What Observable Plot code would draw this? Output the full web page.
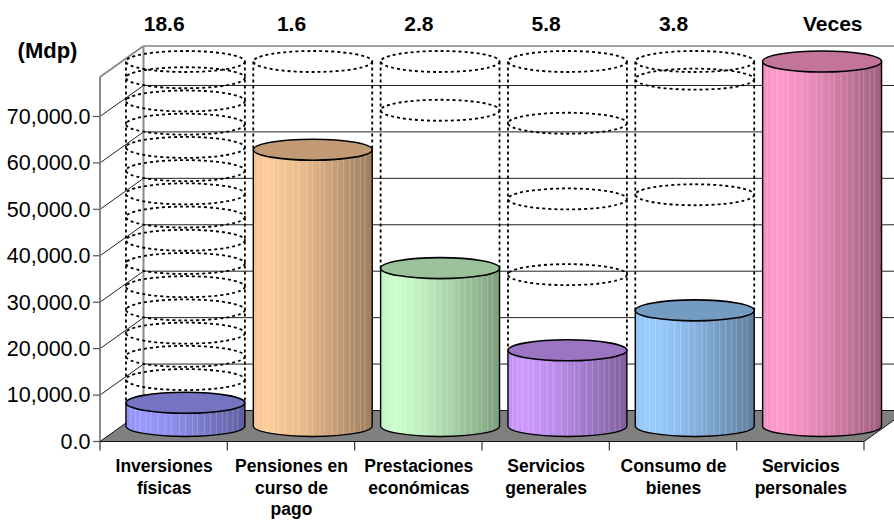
<!DOCTYPE html>
<html><head><meta charset="utf-8">
<script src="https://cdn.jsdelivr.net/npm/d3@7"></script>
<script src="https://cdn.jsdelivr.net/npm/@observablehq/plot@0.6"></script>
<style>body{margin:0;background:#fff;} #chart{width:894px;height:520px;overflow:hidden;}</style>
</head><body><div id="chart"></div>
<script>
// ---- data ----
const categories = ["Inversiones\nfísicas", "Pensiones en\ncurso de\npago", "Prestaciones\neconómicas", "Servicios\ngenerales", "Consumo de\nbienes", "Servicios\npersonales"];
const values = [5000, 59500, 34000, 16300, 24900, 95000];
const veces = [18.6, 1.6, 2.8, 5.8, 3.8, null];
const vecesHeader = "Veces";
const unitLabel = "(Mdp)";
const yTicks = [0, 10000, 20000, 30000, 40000, 50000, 60000, 70000];
const colors = ["#9999ff", "#ffcc99", "#ccffcc", "#cc99ff", "#99ccff", "#ff99cc"];
const yMax = 78500;

// ---- style ----
const DX = 43.5, DY = -31;
const FONT = "'Liberation Sans', Arial, sans-serif";
const shade = (c, k) => { const r = d3.rgb(c); return d3.rgb(r.r * k, r.g * k, r.b * k).formatHex(); };
const idx = categories.map((_, i) => i);

function frame3d(index, {x, y}) {
  const g = d3.create("svg:g");
  const x0 = x(0), x1 = x(categories.length), yb = y(0), yt = y(yMax);
  const ln = (a, b, c, d, stroke, w) => g.append("line").attr("x1", a).attr("y1", b).attr("x2", c).attr("y2", d)
    .attr("stroke", stroke).attr("stroke-width", w);
  for (const t of yTicks.slice(1)) {
    ln(x0 + DX, y(t) + DY, x1 + DX, y(t) + DY, "#222", 1);
    ln(x0, y(t), x0 + DX, y(t) + DY, "#222", 1);
  }
  g.append("path").attr("d", `M${x0},${yb}L${x1},${yb}L${x1 + DX},${yb + DY}L${x0 + DX},${yb + DY}Z`)
    .attr("fill", "#808080").attr("stroke", "#111").attr("stroke-width", 1);
  ln(x0, yt, x0, yb, "#8a8a8a", 2);
  ln(x0, yt, x0 + DX, yt + DY, "#8a8a8a", 2);
  ln(x0 + DX, yt + DY, x0 + DX, yb + DY, "#8a8a8a", 2);
  ln(x0 + DX, yt + DY, x1 + DX, yt + DY, "#a0a0a0", 2);
  for (const t of yTicks) ln(x0 - 7, y(t), x0, y(t), "#555", 1.2);
  for (let k = 0; k <= categories.length; k++) ln(x(k), yb, x(k), yb + 9, "#333", 1.2);
  ln(x0, yb, x1, yb, "#111", 1.2);
  return g.node();
}

function cylinders(index, {x, y}) {
  const g = d3.create("svg:g");
  const defs = g.append("defs");
  const bw = x(1) - x(0);
  const hw = bw * 0.467;
  const ry = 10.5;
  const base = y(0) + DY / 2;
  const stripes = [0.04, 0.08, 0.12, 0.17, 0.21, 0.27, 0.33, 0.38, 0.45, 0.5, 0.56, 0.6, 0.66, 0.71, 0.76, 0.81, 0.85, 0.9, 0.94];
  const ellipse = (sel, cx, cy) => sel.append("ellipse").attr("cx", cx).attr("cy", cy).attr("rx", hw).attr("ry", ry);
  idx.forEach(i => {
    const c = colors[i];
    const gid = "cylgrad" + i;
    const lg = defs.append("linearGradient").attr("id", gid).attr("x1", 0).attr("x2", 1).attr("y1", 0).attr("y2", 0);
    [[0, 0.95], [0.12, 1.0], [0.4, 0.92], [1, 0.62]].forEach(([o, k]) =>
      lg.append("stop").attr("offset", o).attr("stop-color", shade(c, k)));
    const cx = x(i + 0.5) + DX / 2;
    const v = values[i];
    const top = y(Math.min(v, yMax)) + DY / 2;
    if (veces[i] != null) {
      const total = Math.min(v * veces[i], yMax);
      const ttop = y(total) + DY / 2;
      const dg = g.append("g").attr("fill", "none").attr("stroke", "#000").attr("stroke-width", 1.8).attr("stroke-dasharray", "3 3");
      dg.append("line").attr("x1", cx - hw).attr("x2", cx - hw).attr("y1", ttop).attr("y2", top);
      dg.append("line").attr("x1", cx + hw).attr("x2", cx + hw).attr("y1", ttop).attr("y2", top);
      for (let k = 2; k * v < total - 1; k++) ellipse(dg, cx, y(k * v) + DY / 2);
      ellipse(dg, cx, ttop);
    }
    g.append("path")
      .attr("d", `M${cx - hw},${top}L${cx - hw},${base}A${hw},${ry} 0 0 0 ${cx + hw},${base}L${cx + hw},${top}Z`)
      .attr("fill", `url(#${gid})`).attr("stroke", "none");
    for (const f of stripes) {
      const u = f * 2 - 1;
      const px = cx - hw + f * 2 * hw;
      g.append("line").attr("x1", px).attr("x2", px).attr("y1", top + ry * Math.sqrt(1 - u * u))
        .attr("y2", base + ry * Math.sqrt(1 - u * u)).attr("stroke", "#fff").attr("stroke-opacity", 0.22).attr("stroke-width", 1);
    }
    g.append("path")
      .attr("d", `M${cx - hw},${top}L${cx - hw},${base}A${hw},${ry} 0 0 0 ${cx + hw},${base}L${cx + hw},${top}`)
      .attr("fill", "none").attr("stroke", "#000").attr("stroke-width", 1.4);
    ellipse(g, cx, top).attr("fill", shade(c, 0.76)).attr("stroke", "#000").attr("stroke-width", 1.6);
  });
  return g.node();
}

const fmt = d3.format(",.1f");
const chart = Plot.plot({
  width: 894,
  height: 520,
  marginLeft: 100,
  marginRight: 30,
  marginTop: 77,
  marginBottom: 78.5,
  style: {fontFamily: FONT, background: "#fff", overflow: "hidden"},
  x: {domain: [0, categories.length], axis: null},
  y: {domain: [0, yMax], axis: null},
  marks: [
    frame3d,
    cylinders,
    Plot.text(yTicks, {x: 0, y: d => d, text: d => fmt(d), textAnchor: "end", dx: -10, fontSize: 21.5, fill: "#000"}),
    Plot.text(idx, {x: i => i + 0.5, y: 0, text: i => categories[i], lineAnchor: "top", dy: 15, fontSize: 17.5, fontWeight: "bold", lineHeight: 1.22, fill: "#000"}),
    Plot.text(idx.filter(i => veces[i] != null), {x: i => i + 0.5, y: yMax, text: i => veces[i].toFixed(1), lineAnchor: "middle", dy: -53.5, fontSize: 21, fontWeight: "bold", fill: "#000"}),
    Plot.text([vecesHeader], {frameAnchor: "top-right", text: d => d, textAnchor: "end", lineAnchor: "middle", dx: -2, dy: -53.5, fontSize: 21, fontWeight: "bold", fill: "#000"}),
    Plot.text([unitLabel], {frameAnchor: "top-left", text: d => d, textAnchor: "middle", lineAnchor: "middle", dx: -53, dy: -27, fontSize: 22, fontWeight: "bold", fill: "#000"})
  ]
});
document.getElementById("chart").append(chart);
</script>
</body></html>
